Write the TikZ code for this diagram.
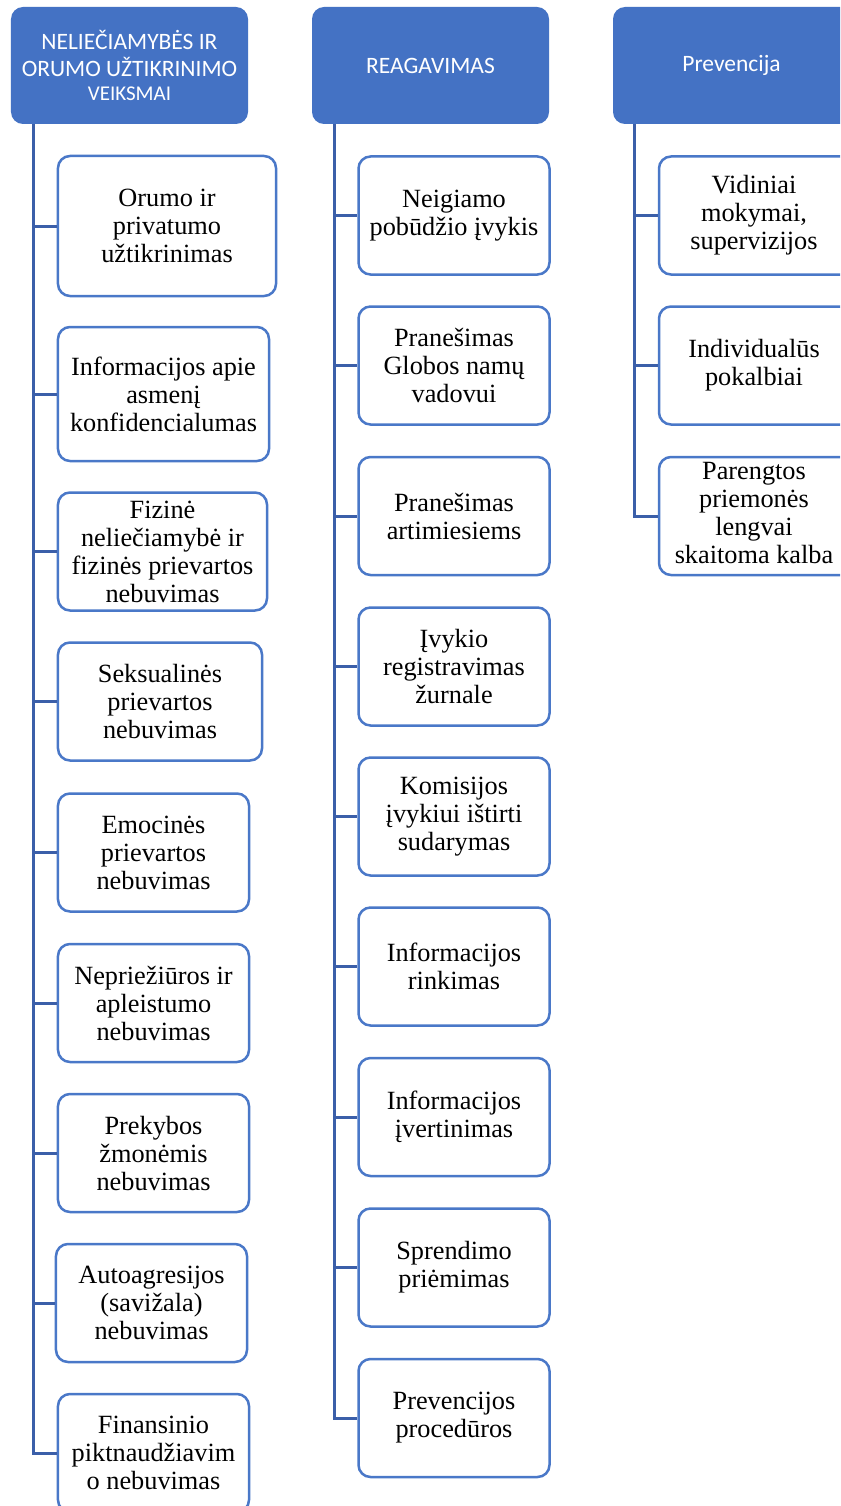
\documentclass[tikz,border=0pt]{standalone}
\usepackage{fontspec}
\setmainfont{Liberation Serif}
\newfontfamily\hdfont{Carlito}
\definecolor{hdblue}{HTML}{4472C4}
\definecolor{lnblue}{HTML}{3B5FA9}
\definecolor{bxblue}{HTML}{4A78C8}
\newcommand{\cutbox}[1]{\begin{tabular}{@{}c@{}}#1\end{tabular}\hspace*{120bp}}
\begin{document}
\begin{tikzpicture}[x=1bp,y=-1bp,
  hd/.style={draw=none, fill=hdblue, rounded corners=12bp, text=white,
    font=\hdfont\fontsize{23.5bp}{27bp}\selectfont, align=center, inner sep=0pt,
    minimum width=237bp, minimum height=117bp},
  cb/.style={draw=bxblue, line width=2.5bp, fill=white, rounded corners=12bp,
    align=center, inner sep=0pt, font=\fontsize{26.3bp}{28bp}\selectfont,
    minimum height=118bp},
  conn/.style={draw=lnblue, line width=3bp}]
\useasboundingbox (0,0) rectangle (840,1506);
\clip (0,0) rectangle (840,1506);
\fill[white] (-10,-10) rectangle (860,1520);

% headers
\node[hd] (h1) at (129.5,65.5) {NELIEČIAMYBĖS IR\\ORUMO UŽTIKRINIMO\\[-3bp]{\fontsize{21bp}{24bp}\selectfont VEIKSMAI}};
\node[hd] (h2) at (430.5,65.5) {REAGAVIMAS};
\node[hd, minimum width=357bp] (h3) at (791.5,65.5) {Prevencija\hspace*{120bp}};

% column 1
\node[cb, minimum width=218bp, minimum height=140bp] (a1) at (167,226) {Orumo ir\\privatumo\\užtikrinimas};
\node[cb, minimum width=211bp, minimum height=134bp] (a2) at (163.5,394) {Informacijos apie\\asmenį\\konfidencialumas};
\node[cb, minimum width=209bp] (a3) at (162.5,551.5) {Fizinė\\neliečiamybė ir\\fizinės prievartos\\nebuvimas};
\node[cb, minimum width=204bp] (a4) at (160,701.5) {Seksualinės\\prievartos\\nebuvimas};
\node[cb, minimum width=191bp] (a5) at (153.5,852.5) {Emocinės\\prievartos\\nebuvimas};
\node[cb, minimum width=191bp] (a6) at (153.5,1003) {Nepriežiūros ir\\apleistumo\\nebuvimas};
\node[cb, minimum width=191bp] (a7) at (153.5,1153) {Prekybos\\žmonėmis\\nebuvimas};
\node[cb, minimum width=191bp] (a8) at (151.5,1303) {Autoagresijos\\(savižala)\\nebuvimas};
\node[cb, minimum width=191bp] (a9) at (153.5,1453) {Finansinio\\piktnaudžiavim\\o nebuvimas};

% column 2
\node[cb, minimum width=191bp] (b1) at (454,215.5) {Neigiamo\\pobūdžio įvykis};
\node[cb, minimum width=191bp] (b2) at (454,365.5) {Pranešimas\\Globos namų\\vadovui};
\node[cb, minimum width=191bp] (b3) at (454,516) {Pranešimas\\artimiesiems};
\node[cb, minimum width=191bp] (b4) at (454,666.5) {Įvykio\\registravimas\\žurnale};
\node[cb, minimum width=191bp] (b5) at (454,816.5) {Komisijos\\įvykiui ištirti\\sudarymas};
\node[cb, minimum width=191bp] (b6) at (454,966.5) {Informacijos\\rinkimas};
\node[cb, minimum width=191bp] (b7) at (454,1117) {Informacijos\\įvertinimas};
\node[cb, minimum width=191bp] (b8) at (454,1267.5) {Sprendimo\\priėmimas};
\node[cb, minimum width=191bp] (b9) at (454,1418) {Prevencijos\\procedūros};

% column 3 (cut off by the right edge)
\node[cb, minimum width=310bp] (c1) at (814,215.5) {\cutbox{Vidiniai\\mokymai,\\supervizijos}};
\node[cb, minimum width=310bp] (c2) at (814,365.5) {\cutbox{Individualūs\\pokalbiai}};
\node[cb, minimum width=310bp] (c3) at (814,516) {\cutbox{Parengtos\\priemonės\\lengvai\\skaitoma kalba}};

% connectors
\coordinate (t1) at (33,124);
\coordinate (t2) at (334,124);
\coordinate (t3) at (634,124);

\draw[conn] (t1) |- (a9.west);
\foreach \n in {a1,a2,a3,a4,a5,a6,a7,a8}
  \draw[conn] (t1 |- \n.west) -- (\n.west);

\draw[conn] (t2) |- (b9.west);
\foreach \n in {b1,b2,b3,b4,b5,b6,b7,b8}
  \draw[conn] (t2 |- \n.west) -- (\n.west);

\draw[conn] (t3) |- (c3.west);
\foreach \n in {c1,c2}
  \draw[conn] (t3 |- \n.west) -- (\n.west);
\end{tikzpicture}
\end{document}
